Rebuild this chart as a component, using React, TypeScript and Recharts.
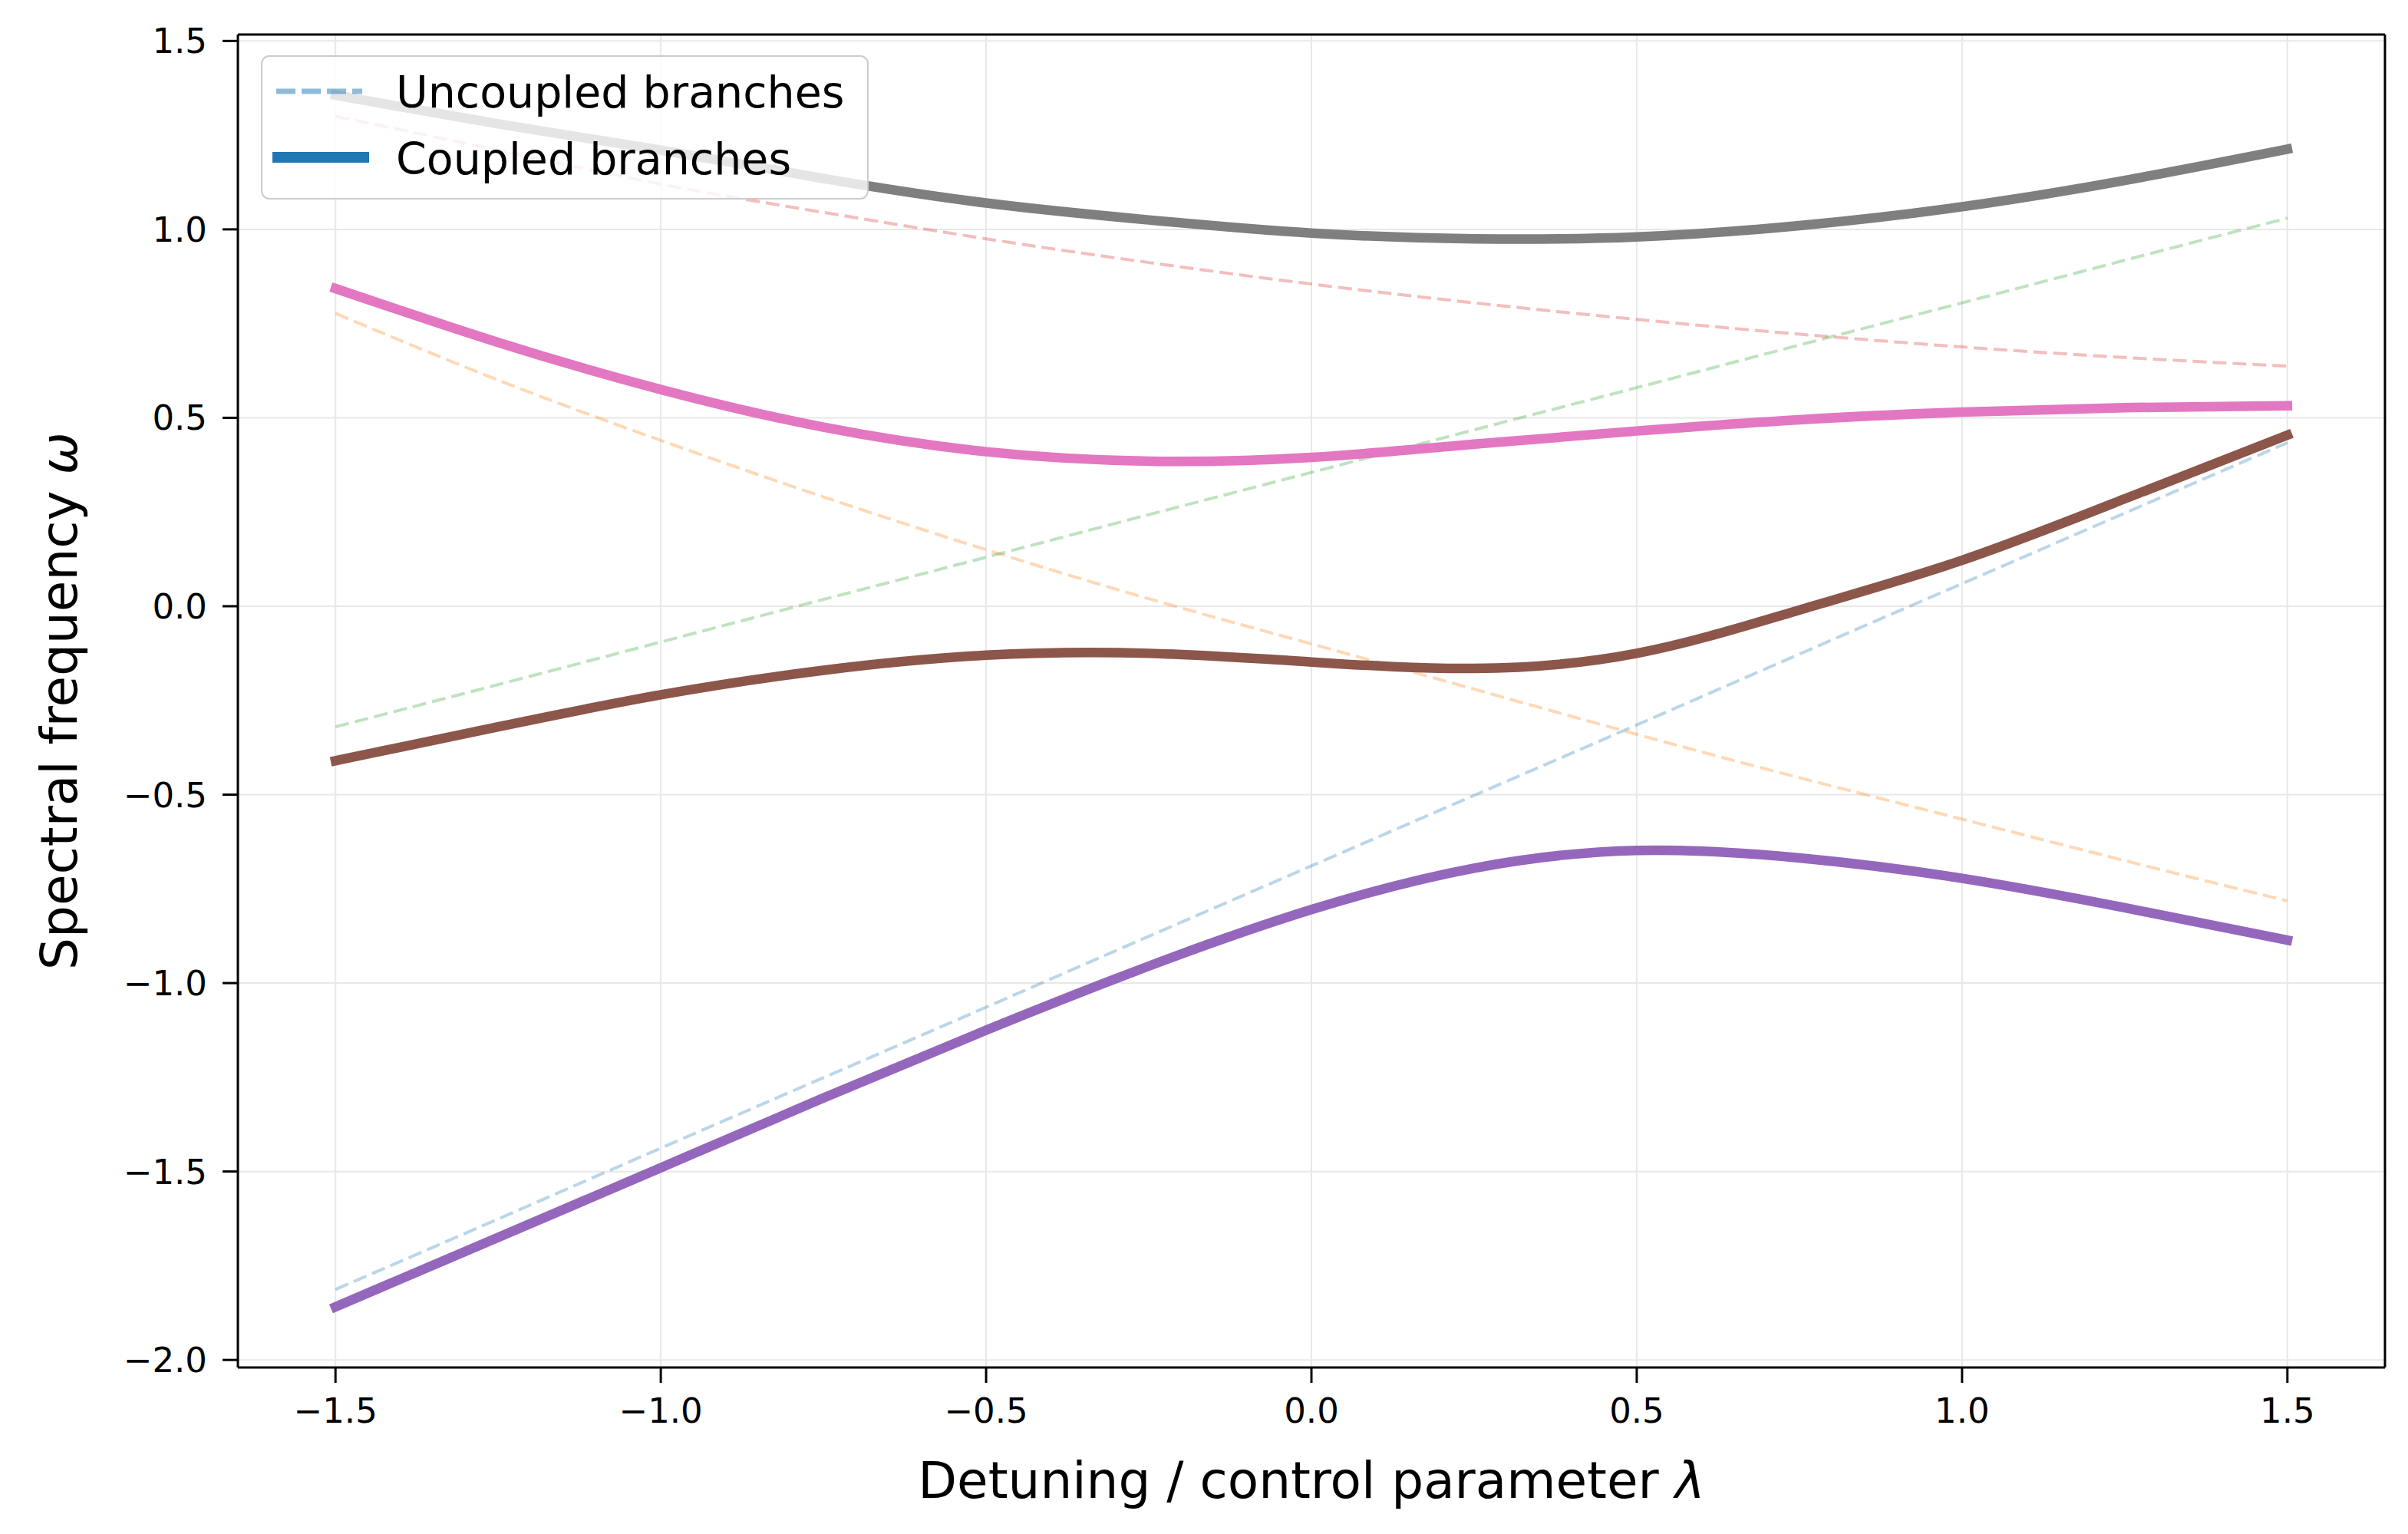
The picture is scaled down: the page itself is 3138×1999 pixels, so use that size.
import React from 'react';
import { LineChart, Line, XAxis, YAxis, CartesianGrid, Legend, Label, ReferenceLine } from 'recharts';

// sample points along the control parameter
const lambdaValues = [-1.5, -1.25, -1.0, -0.75, -0.5, -0.25, 0, 0.25, 0.5, 0.75, 1.0, 1.25, 1.5];

// uncoupled branches (dashed, faint)
const bareBlue = [-1.813, -1.626, -1.438, -1.251, -1.064, -0.876, -0.689, -0.502, -0.315, -0.127, 0.06, 0.247, 0.434];
const bareOrange = [0.777, 0.6, 0.44, 0.29, 0.15, 0.02, -0.1, -0.22, -0.34, -0.455, -0.565, -0.675, -0.782];
const bareGreen = [-0.32, -0.208, -0.095, 0.018, 0.13, 0.243, 0.355, 0.468, 0.58, 0.693, 0.805, 0.918, 1.03];
const bareRed = [1.3, 1.21, 1.12, 1.045, 0.975, 0.912, 0.855, 0.805, 0.761, 0.722, 0.688, 0.66, 0.637];

// coupled branches (thick)
const coupledPurple = [-1.859, -1.675, -1.49, -1.305, -1.125, -0.955, -0.805, -0.695, -0.648, -0.668, -0.722, -0.8, -0.886];
const coupledBrown = [-0.41, -0.32, -0.235, -0.17, -0.13, -0.125, -0.148, -0.165, -0.125, -0.01, 0.122, 0.285, 0.454];
const coupledPink = [0.843, 0.7, 0.575, 0.475, 0.41, 0.385, 0.395, 0.43, 0.465, 0.495, 0.515, 0.527, 0.532];
const coupledGray = [1.356, 1.28, 1.21, 1.135, 1.07, 1.025, 0.99, 0.975, 0.98, 1.01, 1.06, 1.13, 1.213];

const xTicks = [-1.5, -1.0, -0.5, 0, 0.5, 1.0, 1.5];
const yTicks = [-2.0, -1.5, -1.0, -0.5, 0, 0.5, 1.0, 1.5];

const xDomain = [-1.65, 1.65];
const yDomain = [-2.02, 1.517];

const data = lambdaValues.map((x, i) => ({
  x,
  blue: bareBlue[i],
  orange: bareOrange[i],
  green: bareGreen[i],
  red: bareRed[i],
  purple: coupledPurple[i],
  brown: coupledBrown[i],
  pink: coupledPink[i],
  gray: coupledGray[i],
}));

const FONT = 'DejaVu Sans, Verdana, sans-serif';
const fmt = (v: number) => v.toFixed(1).replace('-', '\u2212');

const tickStyle = { fontSize: 45, fill: '#000', fontFamily: FONT };

const bare = [
  { key: 'blue', color: '#1f77b4' },
  { key: 'orange', color: '#ff7f0e' },
  { key: 'green', color: '#2ca02c' },
  { key: 'red', color: '#d62728' },
];
const coupled = [
  { key: 'purple', color: '#9467bd' },
  { key: 'brown', color: '#8c564b' },
  { key: 'pink', color: '#e377c2' },
  { key: 'gray', color: '#7f7f7f' },
];

const renderLegend = () => (
  <svg width={792} height={188} style={{ display: 'block' }}>
    <rect x={1} y={1} width={790} height={186} rx={10} ry={10} fill="#ffffff" fillOpacity={0.8} stroke="#cccccc" strokeWidth={2} />
    <line x1={20} y1={47} x2={132} y2={47} stroke="#1f77b4" strokeOpacity={0.5} strokeWidth={7} strokeDasharray="25 8" />
    <line x1={15} y1={133} x2={141} y2={133} stroke="#1f77b4" strokeWidth={14} />
    <text x={176} y={68} fontSize={57} fontFamily={FONT} fill="#000">Uncoupled branches</text>
    <text x={176} y={155} fontSize={57} fontFamily={FONT} fill="#000">Coupled branches</text>
  </svg>
);

const XLabel = (props: any) => {
  const vb = props.viewBox || {};
  return (
    <text x={vb.x + vb.width / 2} y={vb.y + 170} textAnchor="middle" fontSize={66} fontFamily={FONT} fill="#000">
      Detuning / control parameter <tspan fontStyle="italic">λ</tspan>
    </text>
  );
};

const YLabel = (props: any) => {
  const vb = props.viewBox || {};
  const cx = 100;
  const cy = vb.y + vb.height / 2;
  return (
    <text x={cx} y={cy} transform={`rotate(-90, ${cx}, ${cy})`} textAnchor="middle" fontSize={66} fontFamily={FONT} fill="#000">
      Spectral frequency <tspan fontStyle="italic">ω</tspan>
    </text>
  );
};

export default function App() {
  return (
    <div style={{ position: 'absolute', left: 0, top: 0, width: 3138, height: 1999, background: '#fff', fontFamily: FONT }}>
      <LineChart width={3138} height={1999} data={data} margin={{ top: 45, right: 30, left: 0, bottom: 0 }}>
        <CartesianGrid stroke="#e8e8e8" strokeWidth={2} horizontalValues={yTicks} verticalValues={xTicks} />
        <XAxis
          type="number"
          dataKey="x"
          domain={xDomain}
          ticks={xTicks}
          allowDataOverflow
          tickFormatter={fmt}
          height={217}
          tick={tickStyle}
          tickSize={20}
          tickMargin={20}
          axisLine={{ stroke: '#000', strokeWidth: 3 }}
          tickLine={{ stroke: '#000', strokeWidth: 3 }}
        >
          <Label content={XLabel} />
        </XAxis>
        <YAxis
          type="number"
          domain={yDomain}
          ticks={yTicks}
          allowDataOverflow
          tickFormatter={fmt}
          width={310}
          tick={tickStyle}
          tickSize={20}
          tickMargin={20}
          axisLine={{ stroke: '#000', strokeWidth: 3 }}
          tickLine={{ stroke: '#000', strokeWidth: 3 }}
        >
          <Label content={YLabel} />
        </YAxis>
        {/* top and right spines */}
        <ReferenceLine y={yDomain[1]} stroke="#000" strokeWidth={3} />
        <ReferenceLine x={xDomain[1]} stroke="#000" strokeWidth={3} />
        {bare.map((s) => (
          <Line
            key={s.key}
            dataKey={s.key}
            type="natural"
            stroke={s.color}
            strokeOpacity={0.3}
            strokeWidth={4}
            strokeDasharray="18 8"
            dot={false}
            activeDot={false}
            isAnimationActive={false}
          />
        ))}
        {coupled.map((s) => (
          <Line
            key={s.key}
            dataKey={s.key}
            type="natural"
            stroke={s.color}
            strokeWidth={12.5}
            strokeLinecap="square"
            dot={false}
            activeDot={false}
            isAnimationActive={false}
          />
        ))}
        <Legend
          layout="horizontal"
          verticalAlign="middle"
          align="center"
          content={renderLegend}
          wrapperStyle={{ left: 340, top: 72, width: 792, height: 188 }}
        />
      </LineChart>
    </div>
  );
}
